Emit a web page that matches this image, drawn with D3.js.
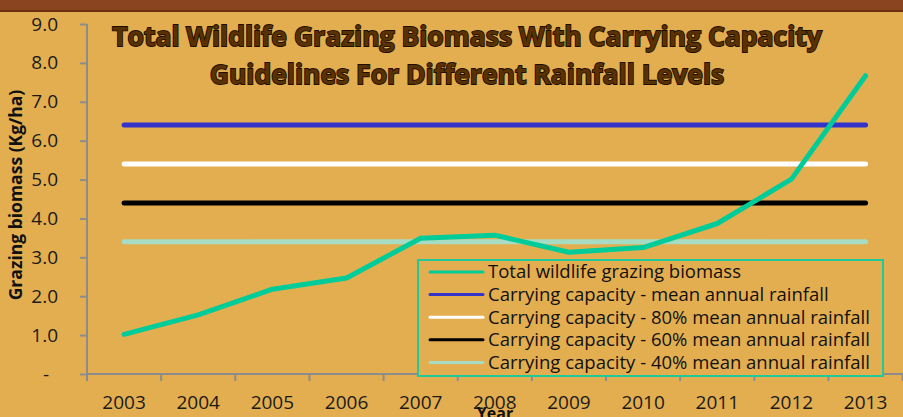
<!DOCTYPE html>
<html>
<head>
<meta charset="utf-8">
<script src="https://cdn.jsdelivr.net/npm/d3@7"></script>
<style>
  body { margin: 0; background: #e3ae50; }
  svg { display: block; }
</style>
</head>
<body>
<div id="chart"></div>
<script>
var years = ["2003", "2004", "2005", "2006", "2007", "2008", "2009", "2010", "2011", "2012", "2013"]
var biomass = [1.02, 1.52, 2.18, 2.47, 3.49, 3.57, 3.13, 3.25, 3.87, 5.01, 7.67]
var capMean = 6.4
var cap80 = 5.4
var cap60 = 4.4
var cap40 = 3.4
var yTicks = [0, 1, 2, 3, 4, 5, 6, 7, 8, 9]
var seriesNames = [
  "Total wildlife grazing biomass",
  "Carrying capacity - mean annual rainfall",
  "Carrying capacity - 80% mean annual rainfall",
  "Carrying capacity - 60% mean annual rainfall",
  "Carrying capacity - 40% mean annual rainfall"
]
var seriesColors = ["#00cc99", "#3333cc", "#ffffff", "#000000", "#a6dcc4"]

var width = 903
var height = 417
var font = "'Open Sans', Lato, sans-serif"

var svg = d3.select("#chart").append("svg")
  .attr("width", width)
  .attr("height", height)

svg.append("rect").attr("width", width).attr("height", height).attr("fill", "#e3ae50")

// brown band on top
svg.append("rect").attr("x", 0).attr("y", 0).attr("width", width).attr("height", 11).attr("fill", "#8b4420")
svg.append("rect").attr("x", 0).attr("y", 10).attr("width", width).attr("height", 2).attr("fill", "#6a3010")

var x = d3.scaleBand()
  .domain(years)
  .range([87, 87 + 74.15 * years.length])

var y = d3.scaleLinear()
  .domain([0, 9])
  .range([374, 24])

function cx(d) { return x(d) + x.bandwidth() / 2 }

// y axis
var yAxis = svg.append("g")
  .attr("transform", "translate(87,0)")
  .call(d3.axisLeft(y).tickValues(yTicks).tickSize(7).tickPadding(22)
    .tickFormat(function(d) { return d === 0 ? "-" : d.toFixed(1) }))
yAxis.select(".domain").attr("stroke", "#8c8c8c").attr("stroke-width", 2).attr("d", "M0," + y(9) + "V" + y(0))
yAxis.selectAll(".tick line").attr("stroke", "#8c8c8c").attr("stroke-width", 2)
yAxis.selectAll(".tick text")
  .attr("font-family", font).attr("font-size", 19).attr("fill", "#1a1a1a")
  .attr("text-anchor", "end")
yAxis.selectAll(".tick text").filter(function(d) { return d === 0 })
  .attr("dx", -9)

// x axis
var xAxis = svg.append("g")
  .attr("transform", "translate(0,374)")
  .call(d3.axisBottom(x).tickSize(0).tickPadding(22))
xAxis.select(".domain").attr("stroke", "#8c8c8c").attr("stroke-width", 2)
  .attr("d", "M87,0H" + width)
xAxis.selectAll(".tick text")
  .attr("font-family", font).attr("font-size", 19).attr("fill", "#1a1a1a")

var bounds = years.map(function(d) { return x(d) }).concat([x.range()[1]])
svg.append("g").selectAll("line")
  .data(bounds)
  .enter().append("line")
  .attr("x1", function(d) { return d }).attr("x2", function(d) { return d })
  .attr("y1", 374).attr("y2", 381)
  .attr("stroke", "#8c8c8c").attr("stroke-width", 2)

// carrying capacity lines
var caps = [capMean, cap80, cap60, cap40]
svg.append("g").selectAll("line")
  .data(caps)
  .enter().append("line")
  .attr("x1", cx(years[0]))
  .attr("x2", cx(years[years.length - 1]))
  .attr("y1", function(d) { return y(d) })
  .attr("y2", function(d) { return y(d) })
  .attr("stroke", function(d, i) { return seriesColors[i + 1] })
  .attr("stroke-width", 5)
  .attr("stroke-linecap", "round")

// biomass line
var line = d3.line()
  .x(function(d, i) { return cx(years[i]) })
  .y(function(d) { return y(d) })

svg.append("path")
  .datum(biomass)
  .attr("d", line)
  .attr("fill", "none")
  .attr("stroke", seriesColors[0])
  .attr("stroke-width", 5)
  .attr("stroke-linecap", "round")
  .attr("stroke-linejoin", "round")

// legend
var legend = svg.append("g").attr("transform", "translate(418,260)")
legend.append("rect")
  .attr("width", 465).attr("height", 116)
  .attr("fill", "#e3ae50")
  .attr("stroke", "#1fc99a").attr("stroke-width", 2)

var rows = legend.selectAll("g")
  .data(seriesNames)
  .enter().append("g")
  .attr("transform", function(d, i) { return "translate(0," + (12 + i * 22.6) + ")" })
rows.append("line")
  .attr("x1", 12).attr("x2", 65)
  .attr("stroke", function(d, i) { return seriesColors[i] })
  .attr("stroke-width", 3)
  .attr("stroke-linecap", "round")
rows.append("text")
  .attr("x", 70).attr("dy", "0.35em")
  .attr("font-family", font).attr("font-size", 18.5).attr("fill", "#111")
  .text(function(d) { return d })

// axis titles
svg.append("text")
  .attr("transform", "translate(22,195) rotate(-90)")
  .attr("text-anchor", "middle")
  .attr("font-family", font).attr("font-size", 17.5).attr("font-weight", "bold").attr("fill", "#111")
  .text("Grazing biomass (Kg/ha)")

svg.append("text")
  .attr("x", 495).attr("y", 419)
  .attr("text-anchor", "middle")
  .attr("font-family", font).attr("font-size", 16).attr("font-weight", "bold").attr("fill", "#111")
  .text("Year")

// title
var title = svg.append("text")
  .attr("text-anchor", "middle")
  .attr("font-family", font).attr("font-size", 26.5).attr("font-weight", "bold")
  .attr("fill", "#5a3100").attr("stroke", "#1e0e00").attr("stroke-width", 1.8)
  .attr("paint-order", "stroke")
title.append("tspan").attr("x", 467).attr("y", 46).text("Total Wildlife Grazing Biomass With Carrying Capacity")
title.append("tspan").attr("x", 467).attr("y", 84).text("Guidelines For Different Rainfall Levels")
</script>
</body>
</html>
